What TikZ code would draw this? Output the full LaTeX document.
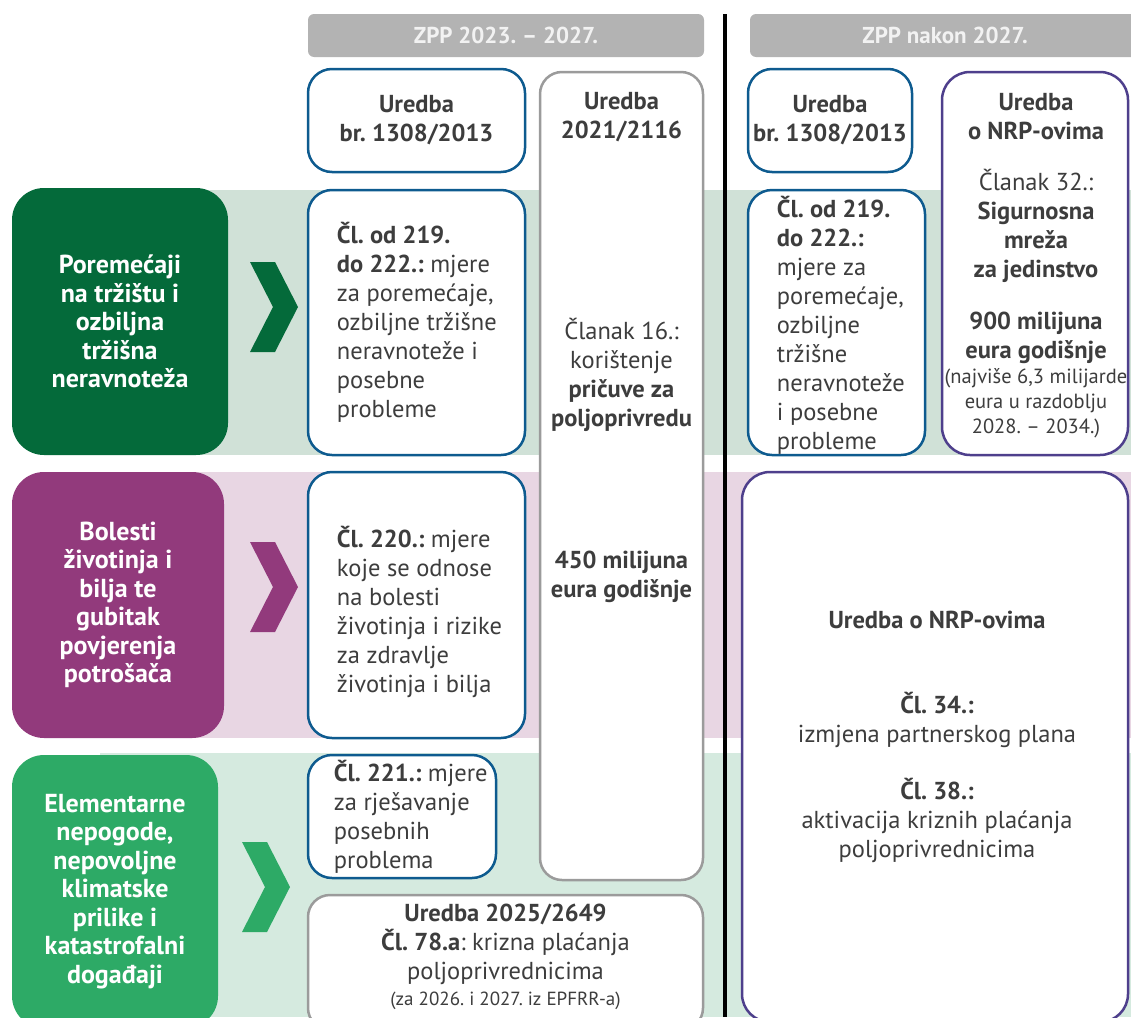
\documentclass[tikz,border=0pt]{standalone}
\usepackage{fontspec}
\setmainfont{PT Sans}
\usetikzlibrary{positioning}
\frenchspacing

\definecolor{txtgray}{HTML}{3D3D3D}
\definecolor{hdrgray}{HTML}{B3B3B3}
\definecolor{regblue}{HTML}{0E5B8F}
\definecolor{boxgray}{HTML}{9B9B9B}
\definecolor{nrppurple}{HTML}{4E3F8C}
\definecolor{crisisgreen}{HTML}{046A3A}
\definecolor{crisispurple}{HTML}{923A7C}
\definecolor{crisislight}{HTML}{2DAA66}
\definecolor{bandgreen}{HTML}{D0E1D7}
\definecolor{bandpurple}{HTML}{E8D6E3}
\definecolor{bandlight}{HTML}{D5EADF}

\begin{document}
\begin{tikzpicture}[x=1pt,y=-1pt,
  every node/.style={text=txtgray, inner sep=0pt},
  hdrbar/.style={fill=hdrgray, rounded corners=6pt, minimum height=43pt, text=white!95!black, font=\bfseries\fontsize{23}{26}\selectfont},
  regbox/.style={draw=regblue, line width=2.5pt, fill=white, rounded corners=24pt, align=center},
  oldbox/.style={draw=boxgray, line width=2.5pt, fill=white, rounded corners=22pt},
  nrpbox/.style={draw=nrppurple, line width=2.5pt, fill=white, rounded corners=28pt},
  causebox/.style={rounded corners=32pt, text=white, align=center, font=\bfseries\fontsize{26}{28.5}\selectfont},
  bodytxt/.style={align=left, font=\fontsize{24.5}{29}\selectfont},
  ctrtxt/.style={align=center, font=\fontsize{24.5}{29}\selectfont},
  smalltxt/.style={align=center, font=\fontsize{20.5}{25}\selectfont}
]
\useasboundingbox (0,0) rectangle (1131,1017);
\clip (0,0) rectangle (1131,1017);

% background bands
\fill[bandgreen]  (100,190) rectangle (1131,455);
\fill[bandpurple] (100,472) rectangle (1131,738);
\fill[bandlight]  (100,753) rectangle (1131,1017);

% divider
\coordinate (divtop) at (725,14);
\coordinate (divbot) at (725,1017);
\draw[line width=4.5pt] (divtop) -- (divbot);

% headers
\node[hdrbar, minimum width=396pt] (hdr1) at (506,35.5) {ZPP 2023. -- 2027.};
\node[hdrbar, minimum width=390pt] (hdr2) at (945,35.5) {ZPP nakon 2027.};

% crises
\node[causebox, fill=crisisgreen, minimum width=216pt, minimum height=267pt] (cause1) at (120,321.5)
  {Poremećaji\\na tržištu i\\ozbiljna\\tržišna\\neravnoteža};
\node[causebox, fill=crisispurple, minimum width=212pt, minimum height=266pt] (cause2) at (118,605)
  {Bolesti\\životinja i\\bilja te\\gubitak\\povjerenja\\potrošača};
\node[causebox, fill=crisislight, minimum width=206pt, minimum height=273pt] (cause3) at (115,891.5)
  {Elementarne\\nepogode,\\nepovoljne\\klimatske\\prilike i\\katastrofalni\\događaji};

% chevrons
\foreach \x/\y/\c in {250/307/crisisgreen, 250/587/crisispurple, 242/887/crisislight}
  \fill[\c] (\x,\y-45) -- ++(25,0) -- ++(23,45) -- ++(-23,45) -- ++(-25,0) -- ++(23,-45) -- cycle;

% ZPP 2023.-2027.
\node[regbox, minimum width=217pt, minimum height=103pt, ctrtxt, font=\bfseries\fontsize{24.5}{29}\selectfont] (reg1308) at (416.5,120.5)
  {Uredba\\br. 1308/2013};
\node[oldbox, minimum width=163pt, minimum height=808pt] (reg2116) at (621.5,476) {};
\node[ctrtxt] (reg2116t) at (621.5,347.5)
  {\textbf{Uredba}\\\textbf{2021/2116}\\[172pt]Članak 16.:\\korištenje\\\textbf{pričuve za}\\\textbf{poljoprivredu}\\[113pt]\textbf{450 milijuna}\\\textbf{eura godišnje}};

\node[regbox, minimum width=217pt, minimum height=265pt] (art219) at (416.5,322.5) {};
\node[bodytxt, right=30pt of art219.west] (art219t)
  {\textbf{Čl. od 219.}\\\textbf{do 222.:} mjere\\za poremećaje,\\ozbiljne tržišne\\neravnoteže i\\posebne\\probleme};
\node[regbox, minimum width=217pt, minimum height=266pt] (art220) at (416.5,605) {};
\node[bodytxt, right=30pt of art220.west, yshift=-7pt] (art220t)
  {\textbf{Čl. 220.:} mjere\\koje se odnose\\na bolesti\\životinja i rizike\\za zdravlje\\životinja i bilja};
\node[regbox, minimum width=188pt, minimum height=123pt] (art221) at (402,816.5) {};
\node[bodytxt, right=27pt of art221.west] (art221t)
  {\textbf{Čl. 221.:} mjere\\za rješavanje\\posebnih\\problema};

\node[oldbox, minimum width=395pt, minimum height=135pt] (reg2649) at (505.5,962.5) {};
\node[ctrtxt] (reg2649t) at (505.5,944)
  {\textbf{Uredba 2025/2649}\\\textbf{Čl. 78.a}: krizna plaćanja\\poljoprivrednicima};
\node[smalltxt, font=\fontsize{19}{22}\selectfont] (reg2649n) at (505.5,1001) {(za 2026. i 2027. iz EPFRR-a)};

% ZPP nakon 2027.
\node[regbox, minimum width=164pt, minimum height=103pt, ctrtxt, font=\bfseries\fontsize{24.5}{29}\selectfont] (reg1308n) at (830,120.5)
  {Uredba\\br. 1308/2013};
\node[regbox, minimum width=177pt, minimum height=265pt] (art219n) at (836.5,322.5) {};
\node[bodytxt, right=30pt of art219n.west, yshift=-3pt] (art219nt)
  {\textbf{Čl. od 219.}\\\textbf{do 222.:}\\mjere za\\poremećaje,\\ozbiljne\\tržišne\\neravnoteže\\i posebne\\probleme};

\node[nrpbox, minimum width=186pt, minimum height=383pt] (nrp32) at (1035,263.5) {};
\node[ctrtxt] (nrp32t) at (1036,228.5)
  {\textbf{Uredba}\\\textbf{o NRP-ovima}\\[22pt]Članak 32.:\\\textbf{Sigurnosna}\\\textbf{mreža}\\\textbf{za jedinstvo}\\[23pt]\textbf{900 milijuna}\\\textbf{eura godišnje}};
\node[smalltxt] (nrp32n) at (1036,403) {(najviše 6,3 milijarde\\eura u razdoblju\\2028. -- 2034.)};

\node[nrpbox, minimum width=386pt, minimum height=550pt] (nrp34) at (935,747) {};
\node[ctrtxt] (nrp34t) at (937,736.5)
  {\textbf{Uredba o NRP-ovima}\\[56pt]\textbf{Čl. 34.:}\\izmjena partnerskog plana\\[28pt]\textbf{Čl. 38.:}\\aktivacija kriznih plaćanja\\poljoprivrednicima};

\end{tikzpicture}
\end{document}
